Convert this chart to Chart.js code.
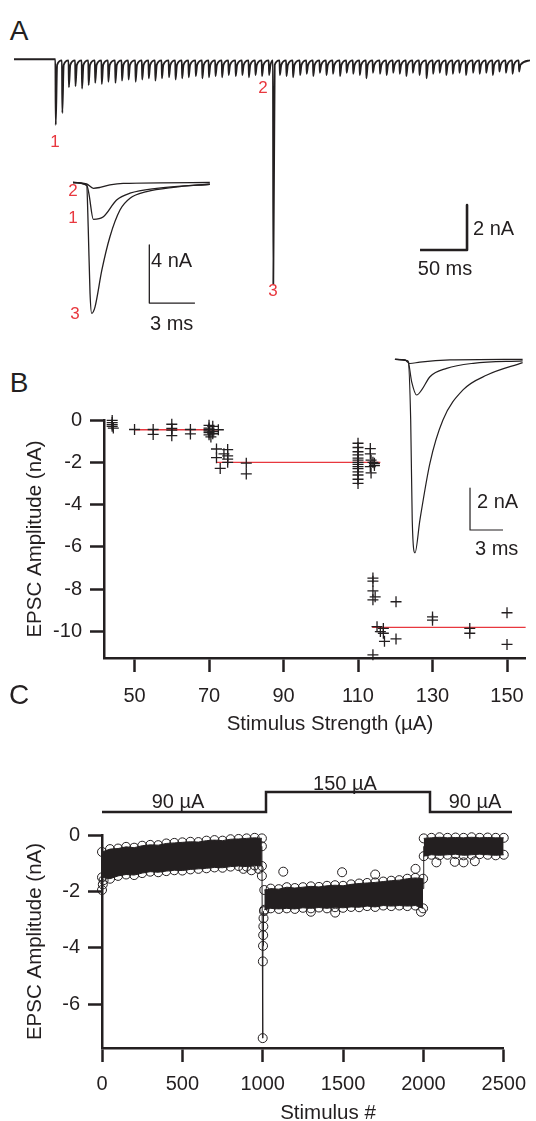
<!DOCTYPE html>
<html lang="en">
<head>
<meta charset="UTF-8">
<title>EPSC amplitude and stimulus strength</title>
<script src="https://cdn.jsdelivr.net/npm/chart.js"></script>
<style>
  html, body { margin: 0; padding: 0; background: #fff; }
  body { width: 536px; height: 1121px; overflow: hidden; position: relative;
         font-family: 'Liberation Sans', Arial, sans-serif; color: #231f20; }
  .box { position: absolute; }
  .t { position: absolute; transform: translate(-50%, -50%); line-height: 1; white-space: nowrap; font-size: 20px; }
  .l { transform: translate(0, -50%); }
  .red { color: #e8373e; font-size: 17px; }
  .panel { font-size: 28px; }
  .ttl { font-size: 20.5px; }
</style>
</head>
<body>

<div class="box" style="left:14px;top:50px;width:516px;height:250px"><canvas id="traceA"></canvas></div>
<div class="box" style="left:70px;top:175px;width:145px;height:145px"><canvas id="insetA"></canvas></div>
<div class="box" style="left:0;top:400px;width:536px;height:345px"><canvas id="chartB"></canvas></div>
<div class="box" style="left:390px;top:340px;width:140px;height:220px"><canvas id="insetB"></canvas></div>
<div class="box" style="left:102px;top:780px;width:410px;height:40px"><canvas id="stimC"></canvas></div>
<div class="box" style="left:0;top:815px;width:536px;height:315px"><canvas id="chartC"></canvas></div>

<div class="t panel" style="left:19px;top:31px">A</div>
<div class="t panel" style="left:19px;top:383px">B</div>
<div class="t panel" style="left:19px;top:695px">C</div>

<div class="t red" style="left:55px;top:141px">1</div>
<div class="t red" style="left:263px;top:87px">2</div>
<div class="t red" style="left:273px;top:290px">3</div>
<div class="t red" style="left:73px;top:190px">2</div>
<div class="t red" style="left:73px;top:217px">1</div>
<div class="t red" style="left:75px;top:313px">3</div>

<div class="t l" style="left:473px;top:228px">2 nA</div>
<div class="t" style="left:445px;top:268px">50 ms</div>
<div class="t l" style="left:151px;top:260px">4 nA</div>
<div class="t l" style="left:150px;top:323px">3 ms</div>
<div class="t l" style="left:477px;top:501px">2 nA</div>
<div class="t l" style="left:475px;top:548px">3 ms</div>

<div class="t ttl" style="left:330px;top:723px">Stimulus Strength (µA)</div>
<div class="t ttl" style="left:328px;top:1112px">Stimulus #</div>

<div class="t" style="left:178px;top:801px">90 µA</div>
<div class="t" style="left:345px;top:783px">150 µA</div>
<div class="t" style="left:475px;top:801px">90 µA</div>

<script>
var ink = '#231f20';
var red = '#e8373e';

// ---- A: EPSC trains (ms, nA) ----
var train1Times = [44, 51, 58, 65, 72, 79, 86, 93, 100, 107.5, 114.5, 121.5, 129, 136, 143, 150, 157,
  164.5, 171.5, 178.5, 185.5, 193, 200, 207, 214, 221, 228, 235.5, 242.5, 249.5, 256.5, 263.5, 271];
var train1Peaks = [-2.92, -2.39, -1.25, -1.2, -1.3, -1.15, -1.05, -1.1, -1.0, -1.05, -0.95, -0.9, -1.0,
  -0.9, -0.85, -0.95, -0.85, -0.8, -0.9, -0.85, -0.8, -0.75, -0.85, -0.8, -0.75, -0.8, -0.7, -0.75,
  -0.7, -0.8, -0.7, -0.75, -0.7];
var train2Times = [275.5, 282.5, 289.5, 296.5, 304, 311, 318, 325, 332, 339, 346.5, 353.5, 360.5, 367.5,
  374.5, 381.5, 389, 396, 403, 410, 417, 424, 431, 438.5, 445.5, 452.5, 459.5, 466.5, 473.5, 480.5,
  488, 495, 502, 509, 516, 523, 530, 537];
var train2Peaks = [-10.0, -0.7, -0.75, -0.8, -0.7, -0.65, -0.75, -0.6, -0.7, -0.65, -0.75, -0.6, -0.65,
  -0.7, -0.85, -0.6, -0.65, -0.7, -0.6, -0.65, -0.75, -0.6, -0.7, -0.85, -0.65, -0.6, -0.7, -0.65,
  -0.6, -0.7, -0.6, -0.65, -0.6, -0.7, -0.55, -0.6, -0.65, -0.55];
var hookLevel = -0.25;   // level right after each fast recovery
var restLevel = -0.05;   // level just before the next stimulus
var traceEnd = 549;
var barAX = [482, 482, 432];
var barAY = [-6.48, -8.48, -8.48];

// ---- A inset: single EPSCs 1, 2, 3 (ms, nA) ----
var insA1t = [0, 0.9, 1.05, 1.34, 2.0, 2.87, 3.75, 5.5, 9];
var insA1v = [0, -0.17, -0.8, -2.54, -2.36, -1.21, -0.74, -0.4, -0.12];
var insA2t = [0, 0.9, 1.34, 1.78, 2.43, 3.3, 9];
var insA2v = [0, -0.1, -0.4, -0.34, -0.17, -0.06, 0];
var insA3t = [0, 0.9, 1.0, 1.12, 1.23, 1.45, 1.9, 2.43, 3.09, 3.75, 4.85, 6.6, 9];
var insA3v = [0, -0.2, -3.05, -7.62, -9.02, -8.57, -6.03, -3.74, -1.9, -1.09, -0.63, -0.33, -0.12];
var barAiX = [5.02, 5.02, 8.02];
var barAiY = [-4.31, -8.31, -8.31];

// ---- B: amplitude vs stimulus strength ----
var bX = [44, 44, 44, 44, 44.3, 50, 55, 55, 60, 60, 60, 60, 65, 65,
  70, 70, 70, 70, 70, 70, 70.5, 71, 71, 71, 72.5,
  72, 72, 73, 74, 75, 75, 75, 75, 80, 80,
  110, 110, 110, 110, 110, 110, 110, 110, 110, 110, 110, 110, 110, 110,
  113.3, 113.3, 113.5, 113.3, 114, 114.4, 114.4, 113.5,
  114, 114, 114, 114.6, 114, 120.2, 115.1, 116, 116.8, 116.8, 117.1, 120.2, 114,
  130, 130, 140, 140, 150, 150];
var bY = [-0.02, -0.12, -0.22, -0.3, -0.38, -0.45, -0.45, -0.68, -0.2, -0.4, -0.48, -0.74, -0.45, -0.66,
  -0.25, -0.38, -0.45, -0.52, -0.6, -0.7, -0.8, -0.3, -0.55, -0.65, -0.46,
  -1.37, -1.78, -2.29, -1.6, -1.4, -1.7, -1.85, -2.0, -2.04, -2.55,
  -1.1, -1.3, -1.5, -1.65, -1.8, -1.9, -2.0, -2.1, -2.2, -2.3, -2.45, -2.6, -2.8, -3.0,
  -1.35, -1.6, -1.9, -2.2, -2.0, -2.05, -2.15, -2.5,
  -7.47, -7.62, -8.08, -8.36, -8.5, -8.59, -9.77, -10.0, -9.85, -10.08, -10.46, -10.35, -11.1,
  -9.31, -9.46, -9.85, -10.08, -9.11, -10.61];
var fitStart = [50, 72, 113.8];
var fitEnd = [72.5, 116, 155];
var fitLevel = [-0.46, -2.0, -9.8];
var bTicksX = [50, 70, 90, 110, 130, 150];
var bTicksY = [0, -2, -4, -6, -8, -10];

// ---- B inset (ms, nA) ----
var insB1t = [0, 1.18, 1.52, 1.97, 2.43, 3.18, 4.7, 7.12, 11.6];
var insB1v = [0, -0.08, -1.07, -1.7, -1.46, -0.83, -0.43, -0.19, -0.07];
var insB2t = [0, 0.9, 1.36, 2.27, 5, 11.6];
var insB2v = [0, -0.03, -0.2, -0.13, -0.03, 0];
var insB3t = [0, 1.18, 1.43, 1.57, 1.82, 2.27, 3.18, 4.36, 6.18, 8.36, 11.6];
var insB3v = [0, -0.08, -2.89, -7.65, -9.22, -7.65, -4.94, -2.89, -1.46, -0.75, -0.16];
var barBiX = [6.82, 6.82, 9.82];
var barBiY = [-6.13, -8.13, -8.13];

// ---- C: amplitude over stimulus number ----
var stimStart = [0, 1000, 2000];
var stimEnd = [1000, 2000, 2500];
var stimLevel = [90, 150, 90];

var seg1X = [0, 50, 100, 150, 200, 250, 300, 350, 400, 450, 500, 550, 600, 650, 700, 750, 800, 850, 900, 950, 995];
var seg1Hi = [-0.6, -0.5, -0.48, -0.42, -0.45, -0.38, -0.35, -0.36, -0.3, -0.28, -0.26, -0.24, -0.25, -0.2, -0.18, -0.2, -0.15, -0.14, -0.12, -0.1, -0.12];
var seg1Lo = [-1.5, -1.55, -1.45, -1.4, -1.42, -1.35, -1.3, -1.32, -1.28, -1.25, -1.26, -1.22, -1.2, -1.18, -1.15, -1.16, -1.12, -1.1, -1.12, -1.08, -1.1];
var seg2X = [1010, 1050, 1100, 1150, 1200, 1250, 1300, 1350, 1400, 1450, 1500, 1550, 1600, 1650, 1700, 1750, 1800, 1850, 1900, 1950, 1998];
var seg2Hi = [-1.95, -1.9, -1.92, -1.85, -1.88, -1.85, -1.82, -1.84, -1.8, -1.78, -1.8, -1.75, -1.72, -1.7, -1.68, -1.65, -1.62, -1.6, -1.55, -1.52, -1.55];
var seg2Lo = [-2.65, -2.6, -2.62, -2.6, -2.62, -2.58, -2.6, -2.57, -2.6, -2.56, -2.58, -2.55, -2.56, -2.52, -2.55, -2.5, -2.52, -2.5, -2.52, -2.5, -2.6];
var seg3X = [2002, 2050, 2100, 2150, 2200, 2250, 2300, 2350, 2400, 2450, 2500];
var seg3Hi = [-0.12, -0.1, -0.08, -0.1, -0.09, -0.1, -0.08, -0.1, -0.09, -0.1, -0.1];
var seg3Lo = [-0.75, -0.7, -0.72, -0.7, -0.68, -0.72, -0.7, -0.68, -0.7, -0.72, -0.7];
var jumpX = [995, 1000, 1001, 1002, 1003, 1004, 1005, 1008];
var jumpY = [-0.4, -7.2, -4.48, -3.93, -3.55, -3.24, -2.95, -2.7];
var backX = [1998, 2002];
var backY = [-1.9, -0.4];
var outX = [0, 5, 10, 880, 930, 975, 995, 1128, 1494, 1700, 1951, 1300, 1451, 1985, 2081, 2195, 2250, 2320];
var outY = [-1.95, -1.75, -1.6, -1.2, -1.25, -1.2, -1.45, -1.3, -1.32, -1.4, -1.2, -2.72, -2.75, -2.72, -0.97, -0.95, -0.97, -0.93];
var cTicksX = [0, 500, 1000, 1500, 2000, 2500];
var cTicksY = [0, -2, -4, -6];

// ---- helpers ----
var fam = "'Liberation Sans', Arial, sans-serif";
Chart.defaults.font.family = fam;
Chart.defaults.color = ink;

function pts(xs, ys) {
  return xs.map(function (x, i) { return {x: x, y: ys[i]}; });
}

function line(data, width, color, smooth) {
  return {
    data: data, borderColor: color || ink, borderWidth: width, pointRadius: 0,
    fill: false, clip: false, borderJoinStyle: 'round',
    cubicInterpolationMode: smooth ? 'monotone' : 'default', tension: 0
  };
}

function base(padding) {
  return {
    responsive: true, maintainAspectRatio: false, animation: false, events: [],
    devicePixelRatio: 1,
    layout: {padding: padding || 0},
    plugins: {legend: {display: false}, tooltip: {enabled: false}}
  };
}

function bare(xmin, xmax, ymin, ymax) {
  var o = base(0);
  o.scales = {
    x: {type: 'linear', min: xmin, max: xmax, display: false},
    y: {type: 'linear', min: ymin, max: ymax, display: false}
  };
  return o;
}

function axis(min, max, ticks, size, pad, vertical, title) {
  var s = {
    type: 'linear', min: min, max: max,
    border: {display: true, color: ink, width: 2.5},
    grid: {drawOnChartArea: false, drawTicks: true, tickLength: 14, tickWidth: 2.5, tickColor: ink},
    ticks: {color: ink, font: {size: 20}, padding: pad, autoSkip: false, maxRotation: 0,
            callback: function (v) { return String(v); }},
    afterBuildTicks: function (sc) { sc.ticks = ticks.map(function (v) { return {value: v}; }); },
    afterFit: function (sc) { if (vertical) { sc.width = size; } else { sc.height = size; } }
  };
  if (title) {
    s.title = {display: true, text: title, color: ink, font: {size: 20.5}, padding: {top: 23, bottom: 0}};
  }
  return s;
}

// ---- A main trace ----
var tracePts = [{x: 0, y: 0}];
[[train1Times, train1Peaks], [train2Times, train2Peaks]].forEach(function (tr) {
  tr[0].forEach(function (t, i) {
    tracePts.push({x: t, y: tracePts.length === 1 ? 0 : restLevel});
    tracePts.push({x: t + 0.4, y: tr[1][i]});
    tracePts.push({x: t + 1.9, y: hookLevel});
  });
});
tracePts.push({x: traceEnd, y: restLevel});

new Chart(document.getElementById('traceA'), {
  type: 'line',
  data: {datasets: [line(tracePts, 1.8, ink, true), line(pts(barAX, barAY), 2.6)]},
  options: bare(0, 549, -10.7, 0.41)
});

new Chart(document.getElementById('insetA'), {
  type: 'line',
  data: {datasets: [
    line(pts(insA1t, insA1v), 1.3, ink, true),
    line(pts(insA2t, insA2v), 1.3, ink, true),
    line(pts(insA3t, insA3v), 1.3, ink, true),
    line(pts(barAiX, barAiY), 1.3)
  ]},
  options: bare(-0.197, 9.34, -9.48, 0.517)
});

// ---- B ----
var bSets = [{
  type: 'scatter', data: pts(bX, bY), pointStyle: 'cross', pointRadius: 5.5,
  borderColor: ink, pointBorderWidth: 1.3, clip: false
}];
fitLevel.forEach(function (v, i) {
  bSets.push(line(pts([fitStart[i], fitEnd[i]], [v, v]), 1.3, red));
});
var optB = base({left: 0, right: 3, top: 13, bottom: 0});
optB.scales = {
  x: axis(41.8, 155, bTicksX, 87, 12, false),
  y: axis(-11.25, 0, bTicksY, 104, 8, true, 'EPSC Amplitude (nA)')
};
new Chart(document.getElementById('chartB'), {type: 'line', data: {datasets: bSets}, options: optB});

new Chart(document.getElementById('insetB'), {
  type: 'line',
  data: {datasets: [
    line(pts(insB1t, insB1v), 1.2, ink, true),
    line(pts(insB2t, insB2v), 1.2, ink, true),
    line(pts(insB3t, insB3v), 1.2, ink, true),
    line(pts(barBiX, barBiY), 1.2)
  ]},
  options: bare(-0.45, 12.27, -9.56, 0.92)
});

// ---- C stimulus protocol ----
var stepPts = [];
stimLevel.forEach(function (v, i) {
  stepPts.push({x: stimStart[i], y: v});
  stepPts.push({x: stimEnd[i], y: v});
});
new Chart(document.getElementById('stimC'), {
  type: 'line',
  data: {datasets: [Object.assign(line(stepPts, 2.5), {borderJoinStyle: 'miter'})]},
  options: bare(0, 2500, 66, 186)
});

// ---- C ----
function band(xs, ys, fillNext) {
  return {
    data: pts(xs, ys), borderColor: ink, borderWidth: 1, pointRadius: 4.5, pointBorderWidth: 1,
    pointBackgroundColor: 'rgba(0,0,0,0)', pointBorderColor: ink, clip: false,
    fill: fillNext ? '+1' : false, backgroundColor: ink, tension: 0
  };
}
var cSets = [
  band(seg1X, seg1Hi, true), band(seg1X, seg1Lo, false),
  band(seg2X, seg2Hi, true), band(seg2X, seg2Lo, false),
  band(seg3X, seg3Hi, true), band(seg3X, seg3Lo, false),
  band(jumpX, jumpY, false),
  line(pts(backX, backY), 1),
  Object.assign(band(outX, outY, false), {showLine: false})
];
var optC = base({left: 0, right: 24, top: 14, bottom: 0});
optC.scales = {
  x: axis(0, 2500, cTicksX, 82, 10, false),
  y: axis(-7.55, 0, cTicksY, 102, 8, true, 'EPSC Amplitude (nA)')
};
new Chart(document.getElementById('chartC'), {type: 'line', data: {datasets: cSets}, options: optC});
</script>
</body>
</html>
